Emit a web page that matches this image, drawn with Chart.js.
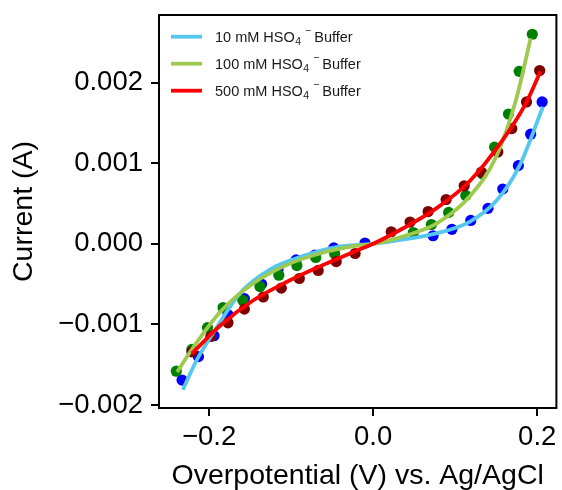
<!DOCTYPE html>
<html>
<head>
<meta charset="utf-8">
<script src="https://cdn.jsdelivr.net/npm/chart.js@4.4.1/dist/chart.umd.min.js"></script>
<style>
  body { margin: 0; background: #fff; }
  #wrap { width: 562px; height: 490px; }
</style>
</head>
<body>
<div id="wrap"><canvas id="ivChart" width="562" height="490"></canvas></div>
<script>
// Measured points (V, A)
const dots10x = [-0.233, -0.213, -0.194, -0.177, -0.157, -0.136, -0.116, -0.094, -0.071, -0.048, -0.010, 0.073, 0.096, 0.119, 0.140, 0.158, 0.177, 0.192, 0.206];
const dots10y = [-0.00169, -0.00140, -0.00114, -0.00088, -0.00068, -0.00050, -0.00032, -0.00020, -0.00014, -0.00005, 0.00001, 0.00010, 0.00018, 0.00029, 0.00044, 0.00068, 0.00097, 0.00136, 0.00176];

const dots100x = [-0.240, -0.221, -0.202, -0.183, -0.159, -0.138, -0.115, -0.093, -0.070, -0.047, 0.049, 0.071, 0.092, 0.113, 0.133, 0.148, 0.165, 0.178, 0.194];
const dots100y = [-0.00158, -0.00131, -0.00104, -0.00079, -0.00070, -0.00053, -0.00039, -0.00027, -0.00017, -0.00012, 0.00014, 0.00024, 0.00039, 0.00060, 0.00087, 0.00120, 0.00161, 0.00214, 0.00260];

const dots500x = [-0.221, -0.198, -0.177, -0.157, -0.134, -0.112, -0.090, -0.067, -0.045, -0.022, 0.022, 0.045, 0.067, 0.089, 0.111, 0.132, 0.152, 0.169, 0.187, 0.203];
const dots500y = [-0.00134, -0.00115, -0.00098, -0.00081, -0.00066, -0.00055, -0.00043, -0.00033, -0.00022, -0.00012, 0.00015, 0.00027, 0.00040, 0.00055, 0.00072, 0.00089, 0.00114, 0.00143, 0.00176, 0.00215];

// Fitted curves
const fit10x = [-0.232, -0.215, -0.194, -0.162, -0.126, -0.085, -0.045, 0.000, 0.041, 0.077, 0.117, 0.150, 0.178, 0.207];
const fit10y = [-0.00181, -0.00144, -0.00109, -0.00061, -0.00032, -0.00015, -0.00004, 0.0, 0.00006, 0.00013, 0.00027, 0.00053, 0.00096, 0.00170];

const fit100x = [-0.239, -0.219, -0.186, -0.146, -0.105, -0.065, -0.024, 0.000, 0.036, 0.077, 0.117, 0.150, 0.174, 0.192];
const fit100y = [-0.00159, -0.00128, -0.00084, -0.00049, -0.00026, -0.00012, -0.00003, 0.0, 0.00009, 0.00025, 0.00058, 0.00108, 0.00178, 0.00255];

const fit500x = [-0.221, -0.186, -0.146, -0.105, -0.065, -0.024, 0.000, 0.036, 0.077, 0.117, 0.158, 0.186, 0.204];
const fit500y = [-0.00136, -0.00101, -0.00070, -0.00047, -0.00028, -0.00010, 0.0, 0.00019, 0.00044, 0.00077, 0.00129, 0.00174, 0.00214];

const seriesNames = ['10 mM HSO', '100 mM HSO', '500 mM HSO'];

const xTicks = [-0.2, 0.0, 0.2];
const xTickLabels = ['\u22120.2', '0.0', '0.2'];
const yTicks = [-0.002, -0.001, 0.000, 0.001, 0.002];
const yTickLabels = ['\u22120.002', '\u22120.001', '0.000', '0.001', '0.002'];

const FONT = '"Liberation Sans", Arial, Helvetica, sans-serif';
const lineColors = ['#55c6ee', '#9dc94f', '#ff0000'];
const dotColors = ['#0000ff', '#008000', '#800000'];

const toPts = (xs, ys) => xs.map((x, i) => ({ x: x, y: ys[i] }));

function curve(xs, ys, color, order) {
    return {
        type: 'line',
        data: toPts(xs, ys),
        borderColor: color,
        borderWidth: 3.8,
        pointRadius: 0,
        fill: false,
        cubicInterpolationMode: 'monotone',
        order: order
    };
}

function dots(xs, ys, color, order) {
    return {
        type: 'scatter',
        data: toPts(xs, ys),
        backgroundColor: color,
        borderWidth: 0,
        pointRadius: 5.6,
        order: order
    };
}

// no extra room for tick labels, plot box is fixed
function noPad(s) {
    s.paddingTop = 0;
    s.paddingBottom = 0;
    s.paddingLeft = 0;
    s.paddingRight = 0;
}

// frame around plot area + legend inside it
const framePlugin = {
    id: 'frame',
    afterDraw(chart) {
        const { ctx, chartArea: a } = chart;
        ctx.save();
        ctx.strokeStyle = '#000';
        ctx.lineWidth = 2;
        ctx.strokeRect(a.left, a.top, a.right - a.left, a.bottom - a.top);

        seriesNames.forEach((name, i) => {
            const y = 36.7 + 27 * i;
            ctx.strokeStyle = lineColors[i];
            ctx.lineWidth = 3.8;
            ctx.beginPath();
            ctx.moveTo(171, y);
            ctx.lineTo(202, y);
            ctx.stroke();

            const base = y + 4.8;
            ctx.fillStyle = '#1a1a1a';
            ctx.textBaseline = 'alphabetic';
            ctx.font = '14.5px ' + FONT;
            ctx.fillText(name, 215, base);
            let x = 215 + ctx.measureText(name).width + 0.5;
            ctx.font = '10.5px ' + FONT;
            ctx.fillText('4', x, base + 3.5);
            x += ctx.measureText('4').width + 4;
            ctx.fillText('\u2212', x, base - 8);
            x += ctx.measureText('\u2212').width + 3;
            ctx.font = '14.5px ' + FONT;
            ctx.fillText('Buffer', x, base);
        });
        ctx.restore();
    }
};

const ctx = document.getElementById('ivChart').getContext('2d');
new Chart(ctx, {
    type: 'scatter',
    data: {
        datasets: [
            curve(fit500x, fit500y, lineColors[2], 0),
            curve(fit100x, fit100y, lineColors[1], 1),
            curve(fit10x, fit10y, lineColors[0], 2),
            dots(dots500x, dots500y, dotColors[2], 3),
            dots(dots100x, dots100y, dotColors[1], 4),
            dots(dots10x, dots10y, dotColors[0], 5)
        ]
    },
    options: {
        responsive: false,
        animation: false,
        layout: { padding: { top: 15, right: 3, left: 0, bottom: 0 } },
        plugins: { legend: { display: false }, tooltip: { enabled: false } },
        scales: {
            x: {
                type: 'linear',
                min: -0.2611,
                max: 0.2234,
                afterBuildTicks: s => { s.ticks = xTicks.map(v => ({ value: v })); },
                afterFit: s => { s.height = 82; noPad(s); },
                border: { display: false },
                grid: { drawOnChartArea: false, drawTicks: true, tickLength: 8, color: '#000', lineWidth: 2 },
                ticks: {
                    color: '#000',
                    padding: 5,
                    maxRotation: 0,
                    font: { family: FONT, size: 27.5 },
                    callback: (v, i) => xTickLabels[i]
                },
                title: {
                    display: true,
                    text: 'Overpotential (V) vs. Ag/AgCl',
                    color: '#000',
                    font: { family: FONT, size: 28.5, lineHeight: 1 },
                    padding: { top: 0, bottom: 0 }
                }
            },
            y: {
                type: 'linear',
                min: -0.002037,
                max: 0.002839,
                afterBuildTicks: s => { s.ticks = yTicks.map(v => ({ value: v })); },
                afterFit: s => { s.width = 159; noPad(s); },
                border: { display: false },
                grid: { drawOnChartArea: false, drawTicks: true, tickLength: 8, color: '#000', lineWidth: 2 },
                ticks: {
                    color: '#000',
                    padding: 8,
                    font: { family: FONT, size: 27.5 },
                    callback: (v, i) => yTickLabels[i]
                },
                title: {
                    display: true,
                    text: 'Current (A)',
                    color: '#000',
                    font: { family: FONT, size: 28.5, lineHeight: 1 },
                    padding: { top: 10, bottom: 0 }
                }
            }
        }
    },
    plugins: [framePlugin]
});
</script>
</body>
</html>
